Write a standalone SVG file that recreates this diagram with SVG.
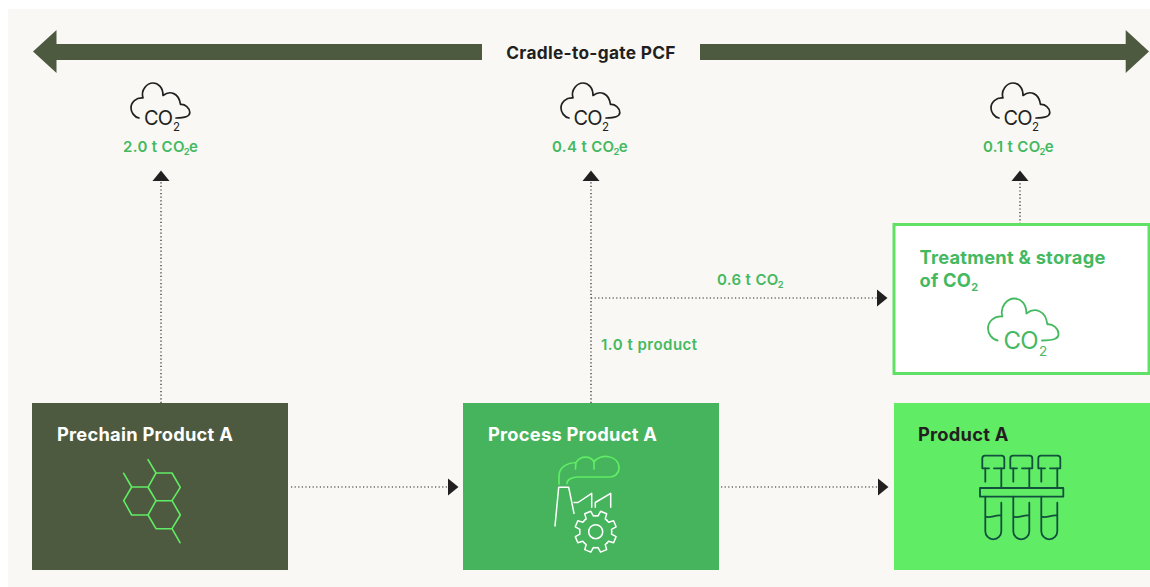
<svg xmlns="http://www.w3.org/2000/svg" width="1150" height="587" viewBox="0 0 1150 587">
<style>
text{font-family:Inter,"Liberation Sans",sans-serif}
.bar{fill:#4e5a3f}
.conn{fill:none;stroke:#231f20;stroke-width:1.2;stroke-dasharray:1.2 2.4}
.ic{fill:none;stroke-width:1.7;stroke-linecap:round;stroke-linejoin:round}
.co{font-weight:400;font-size:20px}
.coS{font-weight:400;font-size:11.5px}
.val{font-weight:600;font-size:15px;letter-spacing:.35px;fill:#45b95f}
.sub{font-size:9.5px;letter-spacing:0}
.ttl{font-weight:700;font-size:18.3px;letter-spacing:.25px}
.hex{fill:none;stroke:#60ec64;stroke-width:1.6;stroke-linejoin:round;stroke-linecap:round}
.tube{fill:none;stroke:#10503c;stroke-width:1.8;stroke-linecap:round;stroke-linejoin:round}
.gear{fill:none;stroke:#fff;stroke-width:1.5;stroke-linecap:round;stroke-linejoin:round}
</style>
<defs>
<marker id="ah" markerUnits="userSpaceOnUse" markerWidth="12" markerHeight="20" refX="1" refY="10" orient="auto"><path d="M0 1.5L10.5 10L0 18.5Z" fill="#231f20"/></marker>
<path id="cloud" d="M139 118C134 117 131 112 131 108C131 102 136 97.500 143 98C140.500 90 147 83 153 83C158 83 163 87 163 95.500C170 90 179 93 180.500 104.500C185 104 189.800 108 189.800 112.500C189.800 116 187 118 176 118"/>
<path id="tooth" d="M-6.12-14.78L-3.87-15.52L-3.29-20.74L3.29-20.74L3.87-15.52L6.12-14.78"/>
<g id="tb">
<path d="M989 468.300H982.300V458.500Q982.300 455.700 985 455.700H1001.500Q1004.300 455.700 1004.300 458.500V468.300H994"/>
<path d="M985.300 468.300V481.700M1001.300 468.300V487.700M985.300 496.700V531.300A8 8 0 0 0 1001.300 531.300V502.700M985.300 516.700C991 518.500 995 514.500 1001.300 515.500"/>
</g>
</defs>
<rect x="8" y="9" width="1142" height="578" fill="#f9f8f4"/>
<g id="pcf-range">
<path class="bar" d="M33 51.500L56.500 30V44H482V60H56.500V73Z"/>
<path class="bar" d="M1149 51.500L1125.700 30V44H700V60H1125.700V73Z"/>
<text x="591" y="59" text-anchor="middle" font-size="17.300" letter-spacing=".3" font-weight="700" fill="#231f20">Cradle-to-gate PCF</text>
</g>
<g id="connectors">
<path class="conn" d="M161 403V180" marker-end="url(#ah)"/>
<path class="conn" d="M591 403V180" marker-end="url(#ah)"/>
<path class="conn" d="M1020 224V180" marker-end="url(#ah)"/>
<path class="conn" d="M591 298H878" marker-end="url(#ah)"/>
<path class="conn" d="M291 487H449" marker-end="url(#ah)"/>
<path class="conn" d="M721 487H879" marker-end="url(#ah)"/>
</g>
<g id="emission-a">
<use href="#cloud" class="ic" stroke="#231f20"/>
<text x="144" y="125" class="co" fill="#231f20" textLength="29">CO</text>
<text x="173" y="131" class="coS" fill="#231f20">2</text>
<text x="123" y="152" class="val">2.0 t CO<tspan class="sub" dy="3" dx="-1">2</tspan><tspan dy="-3" dx="-.7">e</tspan></text>
</g>
<g id="emission-b">
<use href="#cloud" x="430" class="ic" stroke="#231f20"/>
<text x="573.500" y="125" class="co" fill="#231f20" textLength="29">CO</text>
<text x="602" y="131" class="coS" fill="#231f20">2</text>
<text x="552" y="152" class="val">0.4 t CO<tspan class="sub" dy="3" dx="-1">2</tspan><tspan dy="-3" dx="-.7">e</tspan></text>
</g>
<g id="emission-c">
<use href="#cloud" x="860" class="ic" stroke="#231f20"/>
<text x="1003.500" y="125" class="co" fill="#231f20" textLength="29">CO</text>
<text x="1032" y="131" class="coS" fill="#231f20">2</text>
<text x="983" y="152" class="val">0.1 t CO<tspan class="sub" dy="3" dx="-1">2</tspan><tspan dy="-3" dx="-.7">e</tspan></text>
</g>
<g id="label-co2"><text x="717" y="285" class="val">0.6 t CO<tspan class="sub" dy="3" dx="-1">2</tspan></text></g>
<g id="label-product"><text x="601" y="350" class="val" style="letter-spacing:.5px">1.0 t product</text></g>
<g id="treatment">
<rect x="894" y="224.500" width="255" height="149" fill="#fff" stroke="#60e064" stroke-width="3"/>
<text x="919.500" y="264" class="ttl" fill="#45b95f">Treatment &amp; storage</text>
<text x="919.500" y="287" class="ttl" fill="#45b95f">of CO<tspan font-size="11" dy="4">2</tspan></text>
<use href="#cloud" transform="translate(988 298.500) scale(1.2) translate(-131 -83)" class="ic" stroke="#45b95f" style="stroke-width:1.5"/>
<text x="1003.500" y="349" font-size="24" fill="#45b95f" textLength="35">CO</text>
<text x="1039" y="356" font-size="13.500" fill="#45b95f">2</text>
</g>
<g id="prechain">
<rect x="32" y="403" width="256" height="167" fill="#4e5a3f"/>
<text x="57" y="441" class="ttl" fill="#fff">Prechain Product A</text>
<path class="hex" d="M156 473H172L180.300 487.300L172 500.700H156L148 487.300ZM131.700 487H148L156 500.700L148 515H131.700L123.700 500.700ZM156 500.700L148 515L156 528.700H172L180.300 515L172 500.700M156 473L148 459.700M131.700 487L123.700 473.300M172 528.700L180 542.700"/>
</g>
<g id="process">
<rect x="463" y="403" width="256" height="167" fill="#45b45c"/>
<text x="488" y="441" class="ttl" fill="#fff">Process Product A</text>
<path d="M559 484V476C559 468 566 463 576 462.500C581 455 591 456 594 462C600 453 619 455 619 468C619 474 614 477 610 477H578C571 477 567 480 567 483.500M576 462.500Q575.500 466 575.500 469M594 462Q594 466 594 469" fill="none" stroke="#60ec64" stroke-width="1.7" stroke-linecap="round" stroke-linejoin="round"/>
<path class="gear" d="M555 526L558.700 487.300H568.700L574 513.300M574 502.500H578L591.700 493.300V507.300M595.300 507.300V502.500L610.700 493.300V507.300"/>
<g class="gear">
<circle cx="595.700" cy="531.700" r="7"/>
<use href="#tooth" transform="translate(595.700 531.700) rotate(22.500)"/>
<use href="#tooth" transform="translate(595.700 531.700) rotate(67.500)"/>
<use href="#tooth" transform="translate(595.700 531.700) rotate(112.500)"/>
<use href="#tooth" transform="translate(595.700 531.700) rotate(157.500)"/>
<use href="#tooth" transform="translate(595.700 531.700) rotate(202.500)"/>
<use href="#tooth" transform="translate(595.700 531.700) rotate(247.500)"/>
<use href="#tooth" transform="translate(595.700 531.700) rotate(292.500)"/>
<use href="#tooth" transform="translate(595.700 531.700) rotate(337.500)"/>
</g>
</g>
<g id="product">
<rect x="894" y="403" width="256" height="167" fill="#60ec64"/>
<text x="918" y="441" class="ttl" fill="#231f20">Product A</text>
<g class="tube">
<use href="#tb"/><use href="#tb" x="28"/><use href="#tb" x="56"/>
<rect x="980" y="488" width="83.300" height="8.700"/>
</g>
</g>
</svg>
